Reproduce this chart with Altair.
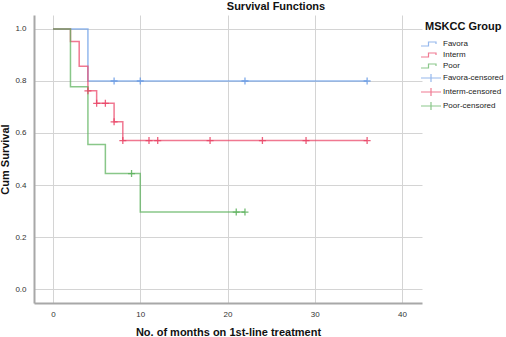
import altair as alt
import pandas as pd

# ---- data ----
groups = ["Favora", "Interm", "Poor"]
censor_groups = ["Favora-censored", "Interm-censored", "Poor-censored"]
colors = ["#6a9ce6", "#ea4466", "#5cb15c"]

fav_t = [0, 4, 36]
fav_s = [1.0, 0.8, 0.8]
int_t = [0, 2, 3, 4, 5, 7, 8, 36]
int_s = [1.0, 0.952, 0.857, 0.762, 0.714, 0.643, 0.571, 0.571]
poor_t = [0, 2, 4, 6, 10, 22]
poor_s = [1.0, 0.778, 0.556, 0.444, 0.296, 0.296]

fav_ct = [7, 10, 22, 36]
fav_cs = [0.8, 0.8, 0.8, 0.8]
int_ct = [4, 5, 6, 7, 8, 11, 12, 18, 24, 29, 36]
int_cs = [0.762, 0.714, 0.714, 0.643, 0.571, 0.571, 0.571, 0.571, 0.571, 0.571, 0.571]
poor_ct = [9, 21, 22]
poor_cs = [0.444, 0.296, 0.296]

x_ticks = [0, 10, 20, 30, 40]
y_ticks = [0.0, 0.2, 0.4, 0.6, 0.8, 1.0]

# ---- tables ----
rows = []
for g, ts, ss in zip(groups, [fav_t, int_t, poor_t], [fav_s, int_s, poor_s]):
    for i, (t, s) in enumerate(zip(ts, ss)):
        rows.append({"group": g, "t": t, "s": s, "order": i})
lines_df = pd.DataFrame(rows)

crow = []
for g, ts, ss in zip(censor_groups, [fav_ct, int_ct, poor_ct], [fav_cs, int_cs, poor_cs]):
    for t, s in zip(ts, ss):
        crow.append({"group": g, "t": t, "s": s})
cens_df = pd.DataFrame(crow)

domain = groups + censor_groups
step_path = "M-2,0.4H-0.5V-0.4H1V0"
cross_path = "M-2,0H2M0,-0.8V0.8"
color_scale = alt.Scale(domain=domain, range=colors + colors)
shape_scale = alt.Scale(domain=domain, range=[step_path] * 3 + [cross_path] * 3)

x_enc = alt.X("t:Q", scale=alt.Scale(domain=[-2.18, 42.29], nice=False, zero=False),
              axis=alt.Axis(values=x_ticks, title="No. of months on 1st-line treatment",
                            format="d", titlePadding=8))
y_enc = alt.Y("s:Q", scale=alt.Scale(domain=[-0.0538, 1.0538], nice=False, zero=False),
              axis=alt.Axis(values=y_ticks, title="Cum Survival", format=".1f",
                            titlePadding=4))

lines = alt.Chart(lines_df).mark_line(interpolate="step-after", strokeWidth=1.5, opacity=0.72).encode(
    x=x_enc, y=y_enc,
    color=alt.Color("group:N", scale=color_scale, legend=None),
    order="order:Q",
    detail="group:N",
)

ticks = alt.Chart(cens_df).mark_point(shape="M0,-1V1M-1,0H1", size=49, strokeWidth=1.3,
                                      filled=False, opacity=0.85).encode(
    x="t:Q", y="s:Q",
    color=alt.Color("group:N", scale=color_scale, legend=None),
)

legend_def = alt.Legend(title="MSKCC Group", orient="none", legendX=391, legendY=6,
                        symbolSize=100, symbolStrokeWidth=1.2,
                        symbolFillColor="transparent",
                        labelOffset=6, rowPadding=0, titlePadding=6,
                        labelFont="Liberation Sans", labelFontSize=8,
                        labelColor="#222222",
                        titleFont="Liberation Sans", titleFontSize=11,
                        titleFontWeight="bold", titleColor="#111111")

legend_layer = alt.Chart(cens_df).transform_filter("false").mark_point(filled=False).encode(
    x="t:Q", y="s:Q",
    color=alt.Color("group:N", scale=color_scale, legend=legend_def),
    shape=alt.Shape("group:N", scale=shape_scale, legend=legend_def),
)

chart = alt.layer(lines, ticks, legend_layer).resolve_legend(
    color="independent", shape="independent"
).properties(
    width=388, height=288,
    title=alt.Title("Survival Functions", anchor="middle", dx=48, offset=3,
                    font="Liberation Sans", fontSize=11, fontWeight="bold", color="#111111"),
    autosize=alt.AutoSizeParams(type="none"),
    padding={"left": 34, "top": 15, "right": 84, "bottom": 34},
).configure_view(stroke="transparent").configure_axis(
    domainColor="#a8a8a8", domainWidth=2, ticks=False,
    gridColor="#d4d4d4", gridWidth=1,
    labelFont="Liberation Sans", labelFontSize=8, labelColor="#333333", labelPadding=7,
    titleFont="Liberation Sans", titleFontSize=11, titleFontWeight="bold", titleColor="#111111",
).configure_axisY(labelPadding=8)

chart.save("out.html", embed_options={"renderer": "svg", "actions": False})
